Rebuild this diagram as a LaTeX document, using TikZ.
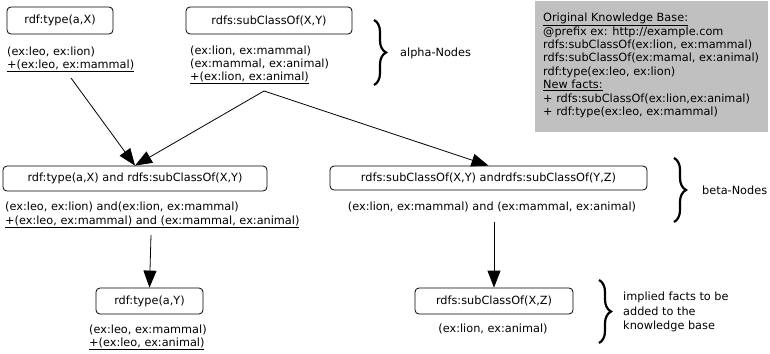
\documentclass[tikz,border=0pt]{standalone}
\usepackage{fontspec}
\setmainfont{DejaVu Sans}
\usetikzlibrary{arrows.meta,decorations.pathreplacing}
\newcommand\fsA{\fontsize{11.3}{12.8}\selectfont}
\newcommand\fsB{\fontsize{11.3}{14}\selectfont}
\newcommand\fsK{\fontsize{11.3}{13.4}\selectfont}
\newcommand\fsI{\fontsize{11.3}{14.5}\selectfont}
\definecolor{kbgray}{RGB}{192,192,192}
\tikzset{
  box/.style={draw, rounded corners=4pt, line width=0.8pt, inner sep=0pt, font=\fsA},
  txt/.style={inner sep=0pt, align=left, font=\fsA, anchor=north west},
  ctxt/.style={inner sep=0pt, font=\fsA, anchor=center},
  lbl/.style={inner sep=0pt, font=\fsA, anchor=west},
  arr/.style={line width=0.8pt, -{Triangle[length=17pt,width=13pt]}},
  brc/.style={decorate, decoration={brace, amplitude=12pt}, line width=2.2pt},
}
\begin{document}
\begin{tikzpicture}[x=1pt,y=-1pt]
\useasboundingbox (0,0) rectangle (770,353);

% alpha nodes
\node[box, minimum width=106pt, minimum height=27pt] (a1) at (60,20.5) {rdf:type(a,X)};
\node[txt] (a1t) at (7,46.5) {(ex:leo, ex:lion)\\\underline{+(ex:leo, ex:mammal)}};
\node[box, minimum width=166pt, minimum height=27pt] (a2) at (269,20.5) {rdfs:subClassOf(X,Y)};
\node[txt] (a2t) at (190,46) {(ex:lion, ex:mammal)\\(ex:mammal, ex:animal)\\\underline{+(ex:lion, ex:animal)}};

% knowledge base box
\node[fill=kbgray, inner sep=0pt, minimum width=233pt, minimum height=131pt, anchor=north west] (kb) at (535,1) {};
\node[txt, font=\fsK] (kbt) at (543,12.9) {\underline{Original Knowledge Base:}\\
@prefix ex: http://example.com\\
rdfs:subClassOf(ex:lion, ex:mammal)\\
rdfs:subClassOf(ex:mamal, ex:animal)\\
rdf:type(ex:leo, ex:lion)\\
\underline{New facts:}\\
+ rdfs:subClassOf(ex:lion,ex:animal)\\
+ rdf:type(ex:leo, ex:mammal)};

% beta nodes
\node[box, minimum width=264pt, minimum height=25pt] (b1) at (135,178.5) {rdf:type(a,X) and rdfs:subClassOf(X,Y)};
\node[txt, font=\fsB] (b1t) at (5,201.9) {(ex:leo, ex:lion) and(ex:lion, ex:mammal)\\\underline{+(ex:leo, ex:mammal) and (ex:mammal, ex:animal)}};
\node[box, minimum width=317pt, minimum height=24pt] (b2) at (488.5,178) {rdfs:subClassOf(X,Y) andrdfs:subClassOf(Y,Z)};
\node[ctxt] (b2t) at (492,207) {(ex:lion, ex:mammal) and (ex:mammal, ex:animal)};

% result nodes
\node[box, minimum width=107pt, minimum height=26pt] (c1) at (149.5,301) {rdf:type(a,Y)};
\node[txt, font=\fontsize{11.3}{12.5}\selectfont] (c1t) at (89,324.9) {(ex:leo, ex:mammal)\\\underline{+(ex:leo, ex:animal)}};
\node[box, minimum width=158pt, minimum height=26pt] (c2) at (494,301) {rdfs:subClassOf(X,Z)};
\node[ctxt] (c2t) at (493,329) {(ex:lion, ex:animal)};

% braces and labels
\draw[brc] (374,20) -- (374,85);
\node[lbl] (alpha) at (400,53) {alpha-Nodes};
\draw[brc] (674,158) -- (674,222);
\node[lbl] (beta) at (702,190) {beta-Nodes};
\draw[brc] (599,280) -- (599,343);
\node[txt, font=\fsI] (impl) at (623,291.9) {implied facts to be\\added to the\\knowledge base};

% connectors
\coordinate (s1) at (71,78);
\coordinate (s2) at (264,91);
\coordinate (s3) at (151,235);
\coordinate (s4) at (494,222);
\draw[arr] (s1) -- (b1.north);
\draw[arr] (s2) -- (b1.north);
\draw[arr] (s2) -- (b2.north);
\draw[arr] (s3) -- (c1.north);
\draw[arr] (s4) -- (c2.north);
\end{tikzpicture}
\end{document}
